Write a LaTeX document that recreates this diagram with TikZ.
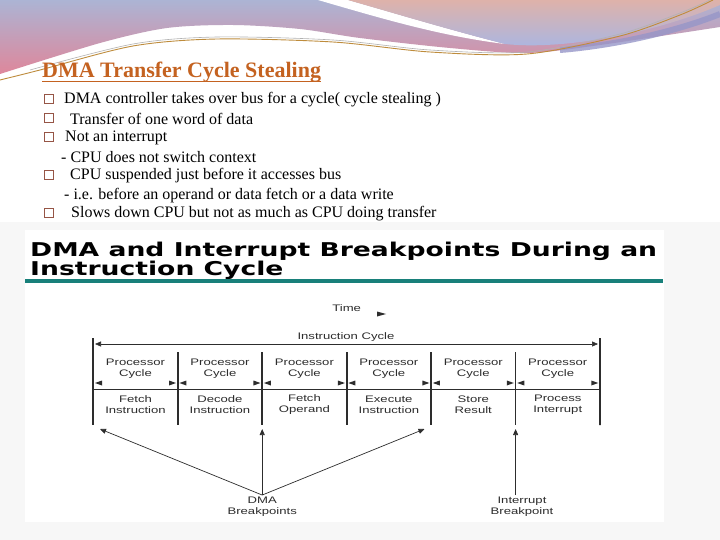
\documentclass[tikz,border=0pt]{standalone}
\usepackage{fontspec}
\setmainfont{Liberation Serif}
\newfontfamily\diagfont[FakeStretch=1.38]{Liberation Sans}
\newfontfamily\headfont[FakeStretch=1.40]{DejaVu Sans}
\usetikzlibrary{arrows.meta}
\definecolor{titleorange}{RGB}{196,98,32}
\definecolor{boxbrown}{RGB}{150,85,70}
\definecolor{diagdark}{RGB}{45,45,45}
\definecolor{rulecolor}{RGB}{24,128,122}
\definecolor{pagegray}{RGB}{247,247,247}
\definecolor{bandlav}{RGB}{172,180,212}
\definecolor{bandpink}{RGB}{222,135,155}
\definecolor{bandsalmon}{RGB}{222,178,170}
\definecolor{bandblue}{RGB}{168,182,228}
\definecolor{bandpurple}{RGB}{150,150,200}
\definecolor{goldline}{RGB}{190,140,60}

\begin{document}
\begin{tikzpicture}[x=1pt,y=-1pt,
    bullet/.style={anchor=west,inner sep=0pt,font=\fontsize{16}{18}\selectfont},
    bulletbox/.style={draw=boxbrown,line width=0.7pt},
    diag/.style={font=\diagfont\fontsize{9.5}{11}\selectfont,align=center,text=diagdark,inner sep=0pt},
    sepline/.style={line width=1.8pt,draw=diagdark},
    breakarrow/.style={draw=diagdark,line width=0.7pt,-{Triangle[length=6pt,width=5pt]}}]
  \useasboundingbox (0,0) rectangle (720,540);
  \fill[white] (0,0) rectangle (720,540);
  \fill[pagegray] (0,222) rectangle (720,540);
  \fill[white] (25,230) rectangle (664,522);
  % top swooshes
  \shade[top color=bandlav,bottom color=bandpink] (0,0) -- plot[smooth] coordinates {(0,74) (100,43) (167,28) (233,25) (300,29) (360,38) (450,48) (527,53) (600,45) (720,27)} -- (720,0) -- cycle;
  \fill[white] (318,0) .. controls (380,18) and (440,36) .. (505,44) .. controls (450,30) and (390,12) .. (348,0) -- cycle;
  \shade[top color=bandsalmon,bottom color=bandblue] (348,0) .. controls (390,12) and (450,30) .. (505,44) .. controls (560,50) and (650,35) .. (720,5) -- (720,0) -- cycle;
  \draw[bandpurple,line width=6pt,opacity=0.8] (560,50) .. controls (620,45) and (680,30) .. (720,14);
  \draw[gray!60,line width=0.6pt] plot[smooth] coordinates {(30,70) (133,44) (217,37) (333,40) (430,50) (527,52) (620,34) (680,13) (710,0)};
  \draw[goldline,line width=0.9pt] plot[smooth] coordinates {(0,80) (40,70) (133,46) (217,39) (333,42) (430,52) (527,54) (620,36) (680,15) (713,0)};

  \node[anchor=base west,inner sep=0pt,text=titleorange,font=\bfseries\fontsize{22}{24}\selectfont] (title) at (42,78) {DMA Transfer Cycle Stealing};
  \draw[titleorange,line width=1.6pt] ([yshift=1.5pt]title.south west) -- ([yshift=1.5pt]title.south east);

  \foreach \y in {100,119,138,176,214}
    {\draw[bulletbox] (44,\y-6) rectangle (53,\y+3);}
  \node[bullet] (b1) at (64,100) {DMA controller takes over bus for a cycle( cycle stealing )};
  \node[bullet] (b2) at (70,119) {Transfer of one word of data};
  \node[bullet] (b3) at (65,138) {Not an interrupt};
  \node[bullet] (b4) at (61,157) {- CPU does not switch context};
  \node[bullet] (b5) at (70,176) {CPU suspended just before it accesses bus};
  \node[bullet] (b6) at (64,196) {- i.e. before an operand or data fetch or a data write};
  \node[bullet] (b7) at (71,214) {Slows down CPU but not as much as CPU doing transfer};

  \node[anchor=base west,inner sep=0pt,font=\headfont\bfseries\fontsize{19}{21}\selectfont] (headA) at (30,256) {DMA and Interrupt Breakpoints During an};
  \node[anchor=base west,inner sep=0pt,font=\headfont\bfseries\fontsize{19}{21}\selectfont] (headB) at (30,275) {Instruction Cycle};
  \draw[rulecolor,line width=4pt] (25,281) -- (663,281);

  \node[diag] (time) at (346.7,308) {Time};
  \fill[diagdark] (377,311.5) -- (386,314) -- (377,316.5) -- cycle;
  \node[diag] (icycle) at (346,337) {Instruction Cycle};

  \foreach \i in {0,...,6}
    {\coordinate (t\i) at ({93.3+84.45*\i},352);
     \coordinate (d\i) at ({93.3+84.45*\i},425);}
  \coordinate (t0) at (93.3,338);
  \coordinate (t6) at (600,338);
  \foreach \i in {0,...,6}
    {\draw[sepline] (t\i) -- (d\i);}
  \coordinate (icl) at (95,344);
  \coordinate (icr) at (598,344);
  \draw[draw=diagdark,line width=0.6pt,{Triangle[length=6pt,width=5pt]}-{Triangle[length=6pt,width=5pt]}] (icl) -- (icr);
  \draw[diagdark,line width=0.6pt] (93.3,389) -- (600,389);

  \foreach \stage [count=\i from 0] in {Fetch\\Instruction,Decode\\Instruction,Fetch\\Operand,Execute\\Instruction,Store\\Result,Process\\Interrupt}
    {\node[diag] (proc\i) at ({135.5+84.45*\i},368.5) {Processor\\Cycle};
     \node[diag] (stage\i) at ({135.5+84.45*\i},405) {\stage};
     \fill[diagdark] ({95+84.45*\i},383) -- ++(7,-2.5) -- ++(0,5) -- cycle;
     \fill[diagdark] ({176+84.45*\i},383) -- ++(-7,-2.5) -- ++(0,5) -- cycle;}

  \node[diag] (dma) at (262.2,507) {DMA\\Breakpoints};
  \node[diag] (intr) at (522,507) {Interrupt\\Breakpoint};
  \coordinate (bp0) at (100,429);
  \coordinate (bp2) at (262.2,429);
  \coordinate (bp4) at (424.5,429);
  \coordinate (bp5) at (515.6,429);
  \draw[breakarrow] ([yshift=2pt]dma.north) -- (bp0);
  \draw[breakarrow] ([yshift=2pt]dma.north) -- (bp2);
  \draw[breakarrow] ([yshift=2pt]dma.north) -- (bp4);
  \draw[breakarrow] ([yshift=2pt]bp5 |- intr.north) -- (bp5);
\end{tikzpicture}
\end{document}
